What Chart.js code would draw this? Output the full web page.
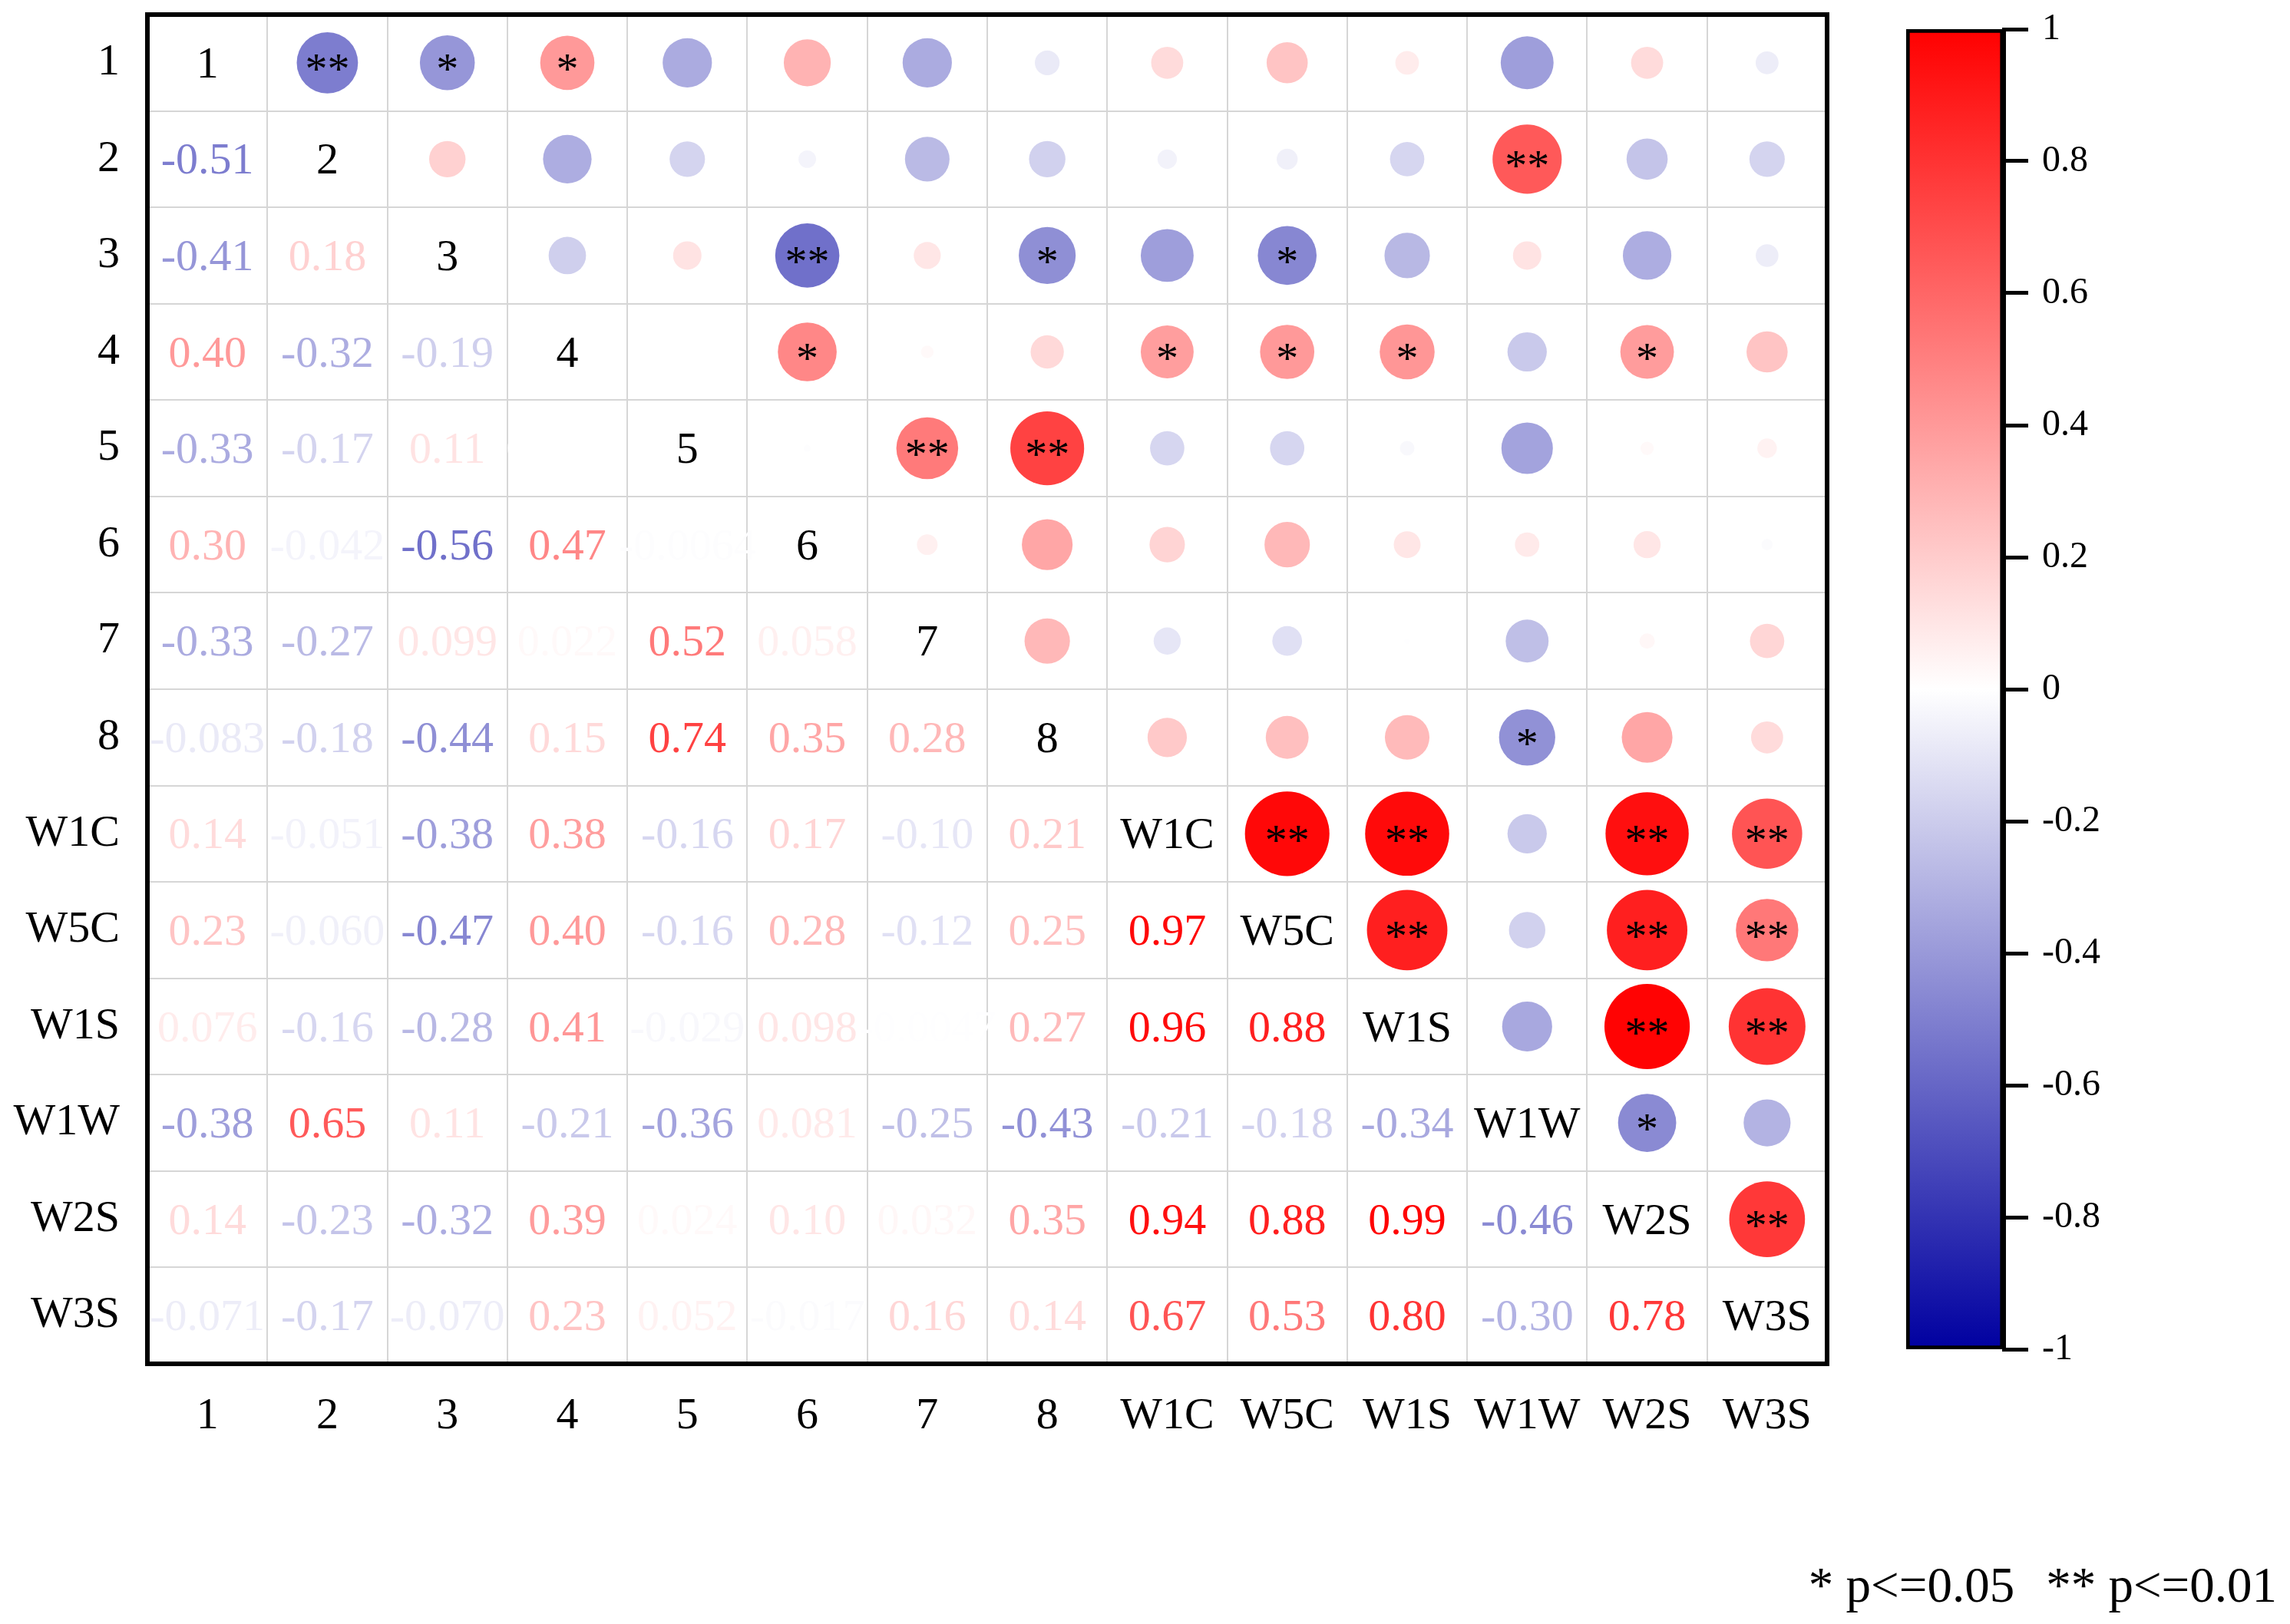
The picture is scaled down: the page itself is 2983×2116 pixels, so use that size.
<!DOCTYPE html>
<html>
<head>
<meta charset="utf-8">
<script src="https://cdn.jsdelivr.net/npm/chart.js@4.4.1/dist/chart.umd.min.js"></script>
<style>
  body { margin: 0; background: #fff; width: 2983px; height: 2116px; overflow: hidden; }
  canvas { position: absolute; }
  #matriz { left: 0; top: 0; }
  #barra { left: 2290px; top: 0; }
</style>
</head>
<body>
<canvas id="matriz" width="2388" height="1900"></canvas>
<canvas id="barra" width="693" height="2116"></canvas>
<script>
// variaveis (linhas e colunas)
const vars = ['1', '2', '3', '4', '5', '6', '7', '8', 'W1C', 'W5C', 'W1S', 'W1W', 'W2S', 'W3S'];

// correlacoes, triangulo inferior (linha i, colunas 0..i-1)
const r_1 = [];
const r_2 = [-0.51];
const r_3 = [-0.41, 0.18];
const r_4 = [0.40, -0.32, -0.19];
const r_5 = [-0.33, -0.17, 0.11, 0.0012];
const r_6 = [0.30, -0.042, -0.56, 0.47, -0.0064];
const r_7 = [-0.33, -0.27, 0.099, 0.022, 0.52, 0.058];
const r_8 = [-0.083, -0.18, -0.44, 0.15, 0.74, 0.35, 0.28];
const r_W1C = [0.14, -0.051, -0.38, 0.38, -0.16, 0.17, -0.10, 0.21];
const r_W5C = [0.23, -0.060, -0.47, 0.40, -0.16, 0.28, -0.12, 0.25, 0.97];
const r_W1S = [0.076, -0.16, -0.28, 0.41, -0.029, 0.098, -0.0047, 0.27, 0.96, 0.88];
const r_W1W = [-0.38, 0.65, 0.11, -0.21, -0.36, 0.081, -0.25, -0.43, -0.21, -0.18, -0.34];
const r_W2S = [0.14, -0.23, -0.32, 0.39, 0.024, 0.10, 0.032, 0.35, 0.94, 0.88, 0.99, -0.46];
const r_W3S = [-0.071, -0.17, -0.070, 0.23, 0.052, -0.017, 0.16, 0.14, 0.67, 0.53, 0.80, -0.30, 0.78];

// significancia: 0 nada, 1 = *, 2 = **
const s_1 = [];
const s_2 = [2];
const s_3 = [1, 0];
const s_4 = [1, 0, 0];
const s_5 = [0, 0, 0, 0];
const s_6 = [0, 0, 2, 1, 0];
const s_7 = [0, 0, 0, 0, 2, 0];
const s_8 = [0, 0, 1, 0, 2, 0, 0];
const s_W1C = [0, 0, 0, 1, 0, 0, 0, 0];
const s_W5C = [0, 0, 1, 1, 0, 0, 0, 0, 2];
const s_W1S = [0, 0, 0, 1, 0, 0, 0, 0, 2, 2];
const s_W1W = [0, 2, 0, 0, 0, 0, 0, 1, 0, 0, 0];
const s_W2S = [0, 0, 0, 1, 0, 0, 0, 0, 2, 2, 2, 1];
const s_W3S = [0, 0, 0, 0, 0, 0, 0, 0, 2, 2, 2, 0, 2];

// escala de cores
const colorTicks = [-1, -0.8, -0.6, -0.4, -0.2, 0, 0.2, 0.4, 0.6, 0.8, 1];
const legendText = ['* p<=0.05', '** p<=0.01'];

const corr = [r_1, r_2, r_3, r_4, r_5, r_6, r_7, r_8, r_W1C, r_W5C, r_W1S, r_W1W, r_W2S, r_W3S];
const sig = [s_1, s_2, s_3, s_4, s_5, s_6, s_7, s_8, s_W1C, s_W5C, s_W1S, s_W1W, s_W2S, s_W3S];

const FONTE = '"Liberation Serif", "Times New Roman", serif';

function cor(v) {
    if (v >= 0) {
        const g = Math.round(255 * (1 - v));
        return `rgb(255, ${g}, ${g})`;
    }
    const t = -v;
    const c = Math.round(255 * (1 - t));
    const b = Math.round(255 - 95 * t);
    return `rgb(${c}, ${c}, ${b})`;
}

// pontos do triangulo superior (coluna i, linha j)
const pontos = [];
corr.forEach((linha, i) => {
    linha.forEach((v, j) => {
        pontos.push({ x: vars[i], y: vars[j], v: v, s: sig[i][j] });
    });
});

const textoCelulas = {
    id: 'textoCelulas',
    afterDatasetsDraw(chart) {
        const ctx = chart.ctx;
        const xs = chart.scales.x;
        const ys = chart.scales.y;
        const tam = 58;
        ctx.save();
        ctx.textAlign = 'center';
        ctx.textBaseline = 'alphabetic';
        ctx.font = `${tam}px ${FONTE}`;
        vars.forEach((nome, i) => {
            const cx = xs.getPixelForValue(i);
            const cy = ys.getPixelForValue(i);
            ctx.fillStyle = '#000';
            ctx.fillText(nome, cx, cy + tam * 0.33);
            corr[i].forEach((v, j) => {
                // valor no triangulo inferior
                ctx.fillStyle = cor(v);
                ctx.fillText(v.toPrecision(2), xs.getPixelForValue(j), cy + tam * 0.33);
                // estrelas no triangulo superior
                if (sig[i][j] > 0) {
                    ctx.fillStyle = '#000';
                    ctx.fillText('*'.repeat(sig[i][j]), cx, ys.getPixelForValue(j) + tam * 0.47);
                }
            });
        });
        ctx.restore();
    },
    afterDraw(chart) {
        const a = chart.chartArea;
        const ctx = chart.ctx;
        ctx.save();
        ctx.strokeStyle = '#000';
        ctx.lineWidth = 6;
        ctx.strokeRect(a.left, a.top, a.right - a.left, a.bottom - a.top);
        ctx.restore();
    }
};

const semPadding = (s) => {
    s.paddingTop = 0;
    s.paddingBottom = 0;
    s.paddingLeft = 0;
    s.paddingRight = 0;
};

new Chart(document.getElementById('matriz'), {
    type: 'scatter',
    data: {
        datasets: [{
            data: pontos,
            showLine: false,
            pointBackgroundColor: (c) => c.raw ? cor(c.raw.v) : '#fff',
            pointBorderWidth: 0,
            pointRadius: (c) => {
                const ys = c.chart.scales.y;
                const cel = ys.height / vars.length;
                return c.raw ? 0.445 * cel * Math.sqrt(Math.abs(c.raw.v)) : 0;
            },
            pointHoverRadius: 0,
        }],
    },
    options: {
        responsive: false,
        devicePixelRatio: 1,
        animation: false,
        events: [],
        layout: { padding: { top: 19, right: 8, left: 0, bottom: 0 } },
        plugins: { legend: { display: false }, tooltip: { enabled: false } },
        scales: {
            x: {
                type: 'category',
                labels: vars,
                offset: true,
                afterFit: (s) => { s.height = 123; semPadding(s); },
                grid: { offset: true, color: '#d6d6d6', lineWidth: 2, drawTicks: false, tickLength: 0 },
                border: { display: false },
                ticks: { color: '#000', padding: 34, maxRotation: 0, autoSkip: false, font: { family: FONTE, size: 58 } },
            },
            y: {
                type: 'category',
                labels: vars,
                offset: true,
                afterFit: (s) => { s.width = 192; semPadding(s); },
                grid: { offset: true, color: '#d6d6d6', lineWidth: 2, drawTicks: false, tickLength: 0 },
                border: { display: false },
                ticks: { color: '#000', padding: 36, autoSkip: false, font: { family: FONTE, size: 58 } },
            },
        },
    },
    plugins: [textoCelulas],
});

// barra de cores
const legendaP = {
    id: 'legendaP',
    afterDraw(chart) {
        const ctx = chart.ctx;
        ctx.save();
        ctx.fillStyle = '#000';
        ctx.font = `65px ${FONTE}`;
        ctx.textAlign = 'right';
        ctx.textBaseline = 'alphabetic';
        const xDir = chart.width - 17;
        ctx.fillText(legendText[1], xDir, 2087);
        const w2 = ctx.measureText(legendText[1]).width;
        ctx.fillText(legendText[0], xDir - w2 - 41, 2087);
        ctx.restore();
    }
};

new Chart(document.getElementById('barra'), {
    type: 'bar',
    data: {
        labels: [''],
        datasets: [{
            data: [[colorTicks[0], colorTicks[colorTicks.length - 1]]],
            backgroundColor: (c) => {
                const a = c.chart.chartArea;
                if (!a) return '#fff';
                const g = c.chart.ctx.createLinearGradient(0, a.top, 0, a.bottom);
                g.addColorStop(0, cor(1));
                g.addColorStop(0.5, cor(0));
                g.addColorStop(1, cor(-1));
                return g;
            },
            borderColor: '#000',
            borderWidth: 5,
            borderSkipped: false,
            barPercentage: 1,
            categoryPercentage: 1,
        }],
    },
    options: {
        responsive: false,
        devicePixelRatio: 1,
        animation: false,
        events: [],
        layout: { padding: { top: 38, left: 193, right: 0, bottom: 358 } },
        plugins: { legend: { display: false }, tooltip: { enabled: false } },
        scales: {
            x: { display: false },
            y: {
                position: 'right',
                min: -1,
                max: 1,
                afterFit: (s) => { s.width = 373; semPadding(s); },
                afterBuildTicks: (s) => { s.ticks = colorTicks.map(v => ({ value: v })); },
                grid: { drawOnChartArea: false, drawTicks: true, tickLength: 32, color: '#000', lineWidth: 5 },
                border: { display: true, color: '#000', width: 5 },
                ticks: { color: '#000', padding: 18, font: { family: FONTE, size: 48 }, callback: (v) => String(v) },
            },
        },
    },
    plugins: [legendaP],
});
</script>
</body>
</html>
